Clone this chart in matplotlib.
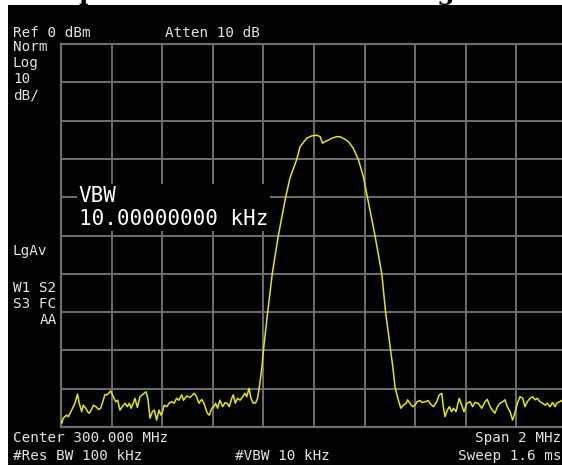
import numpy as np
import matplotlib
matplotlib.use("Agg")
import matplotlib.pyplot as plt
from matplotlib.patches import Rectangle

W, H = 562, 465

# trace: frequency (MHz) and level (dBm)
freq_mhz = [
    299.000, 299.003, 299.009, 299.022, 299.029, 299.042, 299.055, 299.065, 299.072,
    299.082, 299.088, 299.098, 299.105, 299.112, 299.119, 299.128, 299.138, 299.148,
    299.157, 299.165, 299.174, 299.183, 299.196, 299.207, 299.216, 299.224, 299.233,
    299.242, 299.253, 299.262, 299.270, 299.277, 299.286, 299.292, 299.302, 299.312,
    299.325, 299.336, 299.343, 299.352, 299.361, 299.369, 299.378, 299.387, 299.395,
    299.401, 299.408, 299.418, 299.427, 299.437, 299.447, 299.457, 299.466, 299.477,
    299.484, 299.497, 299.510, 299.526, 299.536, 299.545, 299.556, 299.565, 299.578,
    299.586, 299.596, 299.605, 299.611, 299.619, 299.628, 299.639, 299.648, 299.657,
    299.665, 299.675, 299.681, 299.689, 299.698, 299.708, 299.718, 299.727, 299.734,
    299.743, 299.751, 299.760, 299.769, 299.777, 299.784, 299.793,
    299.800, 299.817, 299.835, 299.859, 299.888, 299.905, 299.932, 299.945, 299.971,
    299.991, 300.011, 300.024, 300.034, 300.043, 300.057, 300.070, 300.090, 300.103,
    300.123, 300.136, 300.155, 300.175, 300.195, 300.211, 300.241, 300.268, 300.283,
    300.303, 300.313,
    300.320, 300.333, 300.343, 300.353, 300.364, 300.370, 300.379, 300.390, 300.399,
    300.408, 300.419, 300.428, 300.439, 300.452, 300.458, 300.472, 300.485, 300.495,
    300.505, 300.511, 300.518, 300.527, 300.535, 300.544, 300.551, 300.561, 300.574,
    300.584, 300.593, 300.604, 300.617, 300.627, 300.636, 300.649, 300.663, 300.676,
    300.685, 300.696, 300.705, 300.715, 300.725, 300.735, 300.746, 300.755, 300.764,
    300.775, 300.785, 300.794, 300.804, 300.814, 300.825, 300.834, 300.843, 300.854,
    300.864, 300.874, 300.883, 300.893, 300.904, 300.913, 300.922, 300.933, 300.943,
    300.953, 300.959, 300.970, 300.979, 300.990, 301.000,
]
level_dbm = [
    -98.5, -99.0, -97.7, -96.9, -97.3, -95.6, -93.8, -91.4, -93.8,
    -96.0, -94.3, -95.1, -96.0, -96.4, -95.6, -94.3, -94.7, -95.4,
    -95.1, -93.4, -91.5, -91.6, -90.6, -92.1, -93.4, -93.0, -95.6,
    -94.7, -93.8, -94.7, -93.8, -95.1, -93.7, -92.5, -94.9, -92.1,
    -91.4, -90.8, -92.5, -97.7, -96.0, -95.6, -98.2, -95.6, -96.9,
    -96.0, -94.3, -94.7, -93.8, -93.4, -93.8, -92.5, -93.0, -91.6,
    -93.0, -91.9, -92.3, -91.2, -92.1, -93.8, -92.8, -93.8, -96.4,
    -96.9, -95.1, -94.7, -93.8, -95.1, -93.0, -94.7, -93.7, -93.8,
    -94.7, -92.5, -91.6, -93.8, -92.5, -93.0, -92.1, -91.2, -92.1,
    -89.9, -92.5, -93.8, -93.7, -92.5, -89.5, -85.1,
    -80.0, -70.0, -60.0, -50.0, -40.0, -35.0, -30.1, -26.8, -24.6,
    -24.0, -23.8, -24.2, -25.9, -25.5, -25.1, -24.6, -24.2, -24.2,
    -24.9, -25.5, -27.2, -30.1, -34.6, -40.0, -50.0, -60.0, -70.0,
    -80.0, -85.1,
    -89.5, -92.9, -95.1, -94.3, -93.8, -92.9, -93.8, -94.7, -94.3,
    -93.4, -93.1, -93.6, -93.4, -93.1, -93.8, -94.7, -93.4, -91.6,
    -91.2, -94.7, -97.3, -95.6, -94.7, -96.0, -95.1, -96.0, -92.5,
    -94.3, -96.0, -93.8, -93.4, -94.7, -93.6, -93.8, -95.1, -93.4,
    -92.8, -94.7, -95.6, -96.4, -94.7, -93.8, -93.4, -92.9, -94.7,
    -96.0, -98.2, -96.4, -93.8, -92.1, -92.5, -94.7, -93.4, -92.5,
    -92.1, -92.9, -92.5, -93.4, -93.8, -94.3, -93.8, -94.7, -93.6,
    -94.7, -93.8, -93.4, -93.1, -94.0, -93.5,
]

center_mhz = 300.0
span_mhz = 2.0
ref_dbm = 0
db_per_div = 10

left_labels = ["Norm", "Log", "10", "dB/"]
status_labels = ["W1 S2", "S3 FC"]

fig = plt.figure(figsize=(W / 100, H / 100), dpi=100)
fig.patch.set_facecolor("white")


def fx(x):
    return x / W


def fy(y):
    return 1 - y / H


# black screen area
fig.add_artist(Rectangle((fx(8), 0), 1 - fx(8), fy(5), transform=fig.transFigure,
                         facecolor="black", edgecolor="none", zorder=0))

# title above the screen, only its descenders show
fig.text(fx(61), 1.0, "Spectrum with VBW Setting", fontsize=18,
         fontfamily="DejaVu Serif", fontweight="bold", color="black",
         ha="left", va="baseline")

ax = fig.add_axes([fx(61), fy(427), (567 - 61) / W, (427 - 44) / H])
ax.set_facecolor("black")
ax.set_xlim(center_mhz - span_mhz / 2, center_mhz + span_mhz / 2)
ax.set_ylim(ref_dbm - 10 * db_per_div, ref_dbm)
ax.set_xticks(np.linspace(center_mhz - span_mhz / 2, center_mhz + span_mhz / 2, 11))
ax.set_yticks(np.arange(ref_dbm - 10 * db_per_div, ref_dbm + 1, db_per_div))
ax.grid(True, color="#6e6e6e", linewidth=1.4)
ax.tick_params(length=0, labelbottom=False, labelleft=False)
for s in ax.spines.values():
    s.set_color("#6e6e6e")
    s.set_linewidth(1.6)
ax.set_axisbelow(True)

ax.plot(freq_mhz, level_dbm, color="#e6e600", linewidth=1.1, zorder=3)

mono = "DejaVu Sans Mono"
tc = "#e4e4e4"
fs = 10.3

# VBW readout box
ax.text(0.035, 0.573, "VBW\n10.00000000 kHz", transform=ax.transAxes, fontsize=15,
        fontfamily=mono, color="white", ha="left", va="center", linespacing=1.2,
        bbox=dict(facecolor="black", edgecolor="none", pad=1.5), zorder=4)

fig.text(fx(13), fy(33), "Ref 0 dBm", fontsize=fs, fontfamily=mono, color=tc, va="center")
fig.text(fx(165), fy(33), "Atten 10 dB", fontsize=fs, fontfamily=mono, color=tc, va="center")
for i, lab in enumerate(left_labels):
    fig.text(fx(13), fy(47 + 16 * i), lab, fontsize=fs, fontfamily=mono, color=tc, va="center")
fig.text(fx(13), fy(251), "LgAv", fontsize=fs, fontfamily=mono, color=tc, va="center")
for i, lab in enumerate(status_labels):
    fig.text(fx(13), fy(288 + 16 * i), lab, fontsize=fs, fontfamily=mono, color=tc, va="center")
fig.text(fx(57), fy(320), "AA", fontsize=fs, fontfamily=mono, color=tc, va="center", ha="right")

fig.text(fx(13), fy(438), "Center 300.000 MHz", fontsize=fs, fontfamily=mono, color=tc, va="center")
fig.text(fx(13), fy(456), "#Res BW 100 kHz", fontsize=fs, fontfamily=mono, color=tc, va="center")
fig.text(fx(235), fy(456), "#VBW 10 kHz", fontsize=fs, fontfamily=mono, color=tc, va="center")
fig.text(fx(561), fy(438), "Span 2 MHz", fontsize=fs, fontfamily=mono, color=tc, va="center", ha="right")
fig.text(fx(561), fy(456), "Sweep 1.6 ms", fontsize=fs, fontfamily=mono, color=tc, va="center", ha="right")

fig.savefig("out.png", dpi=100, facecolor=fig.get_facecolor())
